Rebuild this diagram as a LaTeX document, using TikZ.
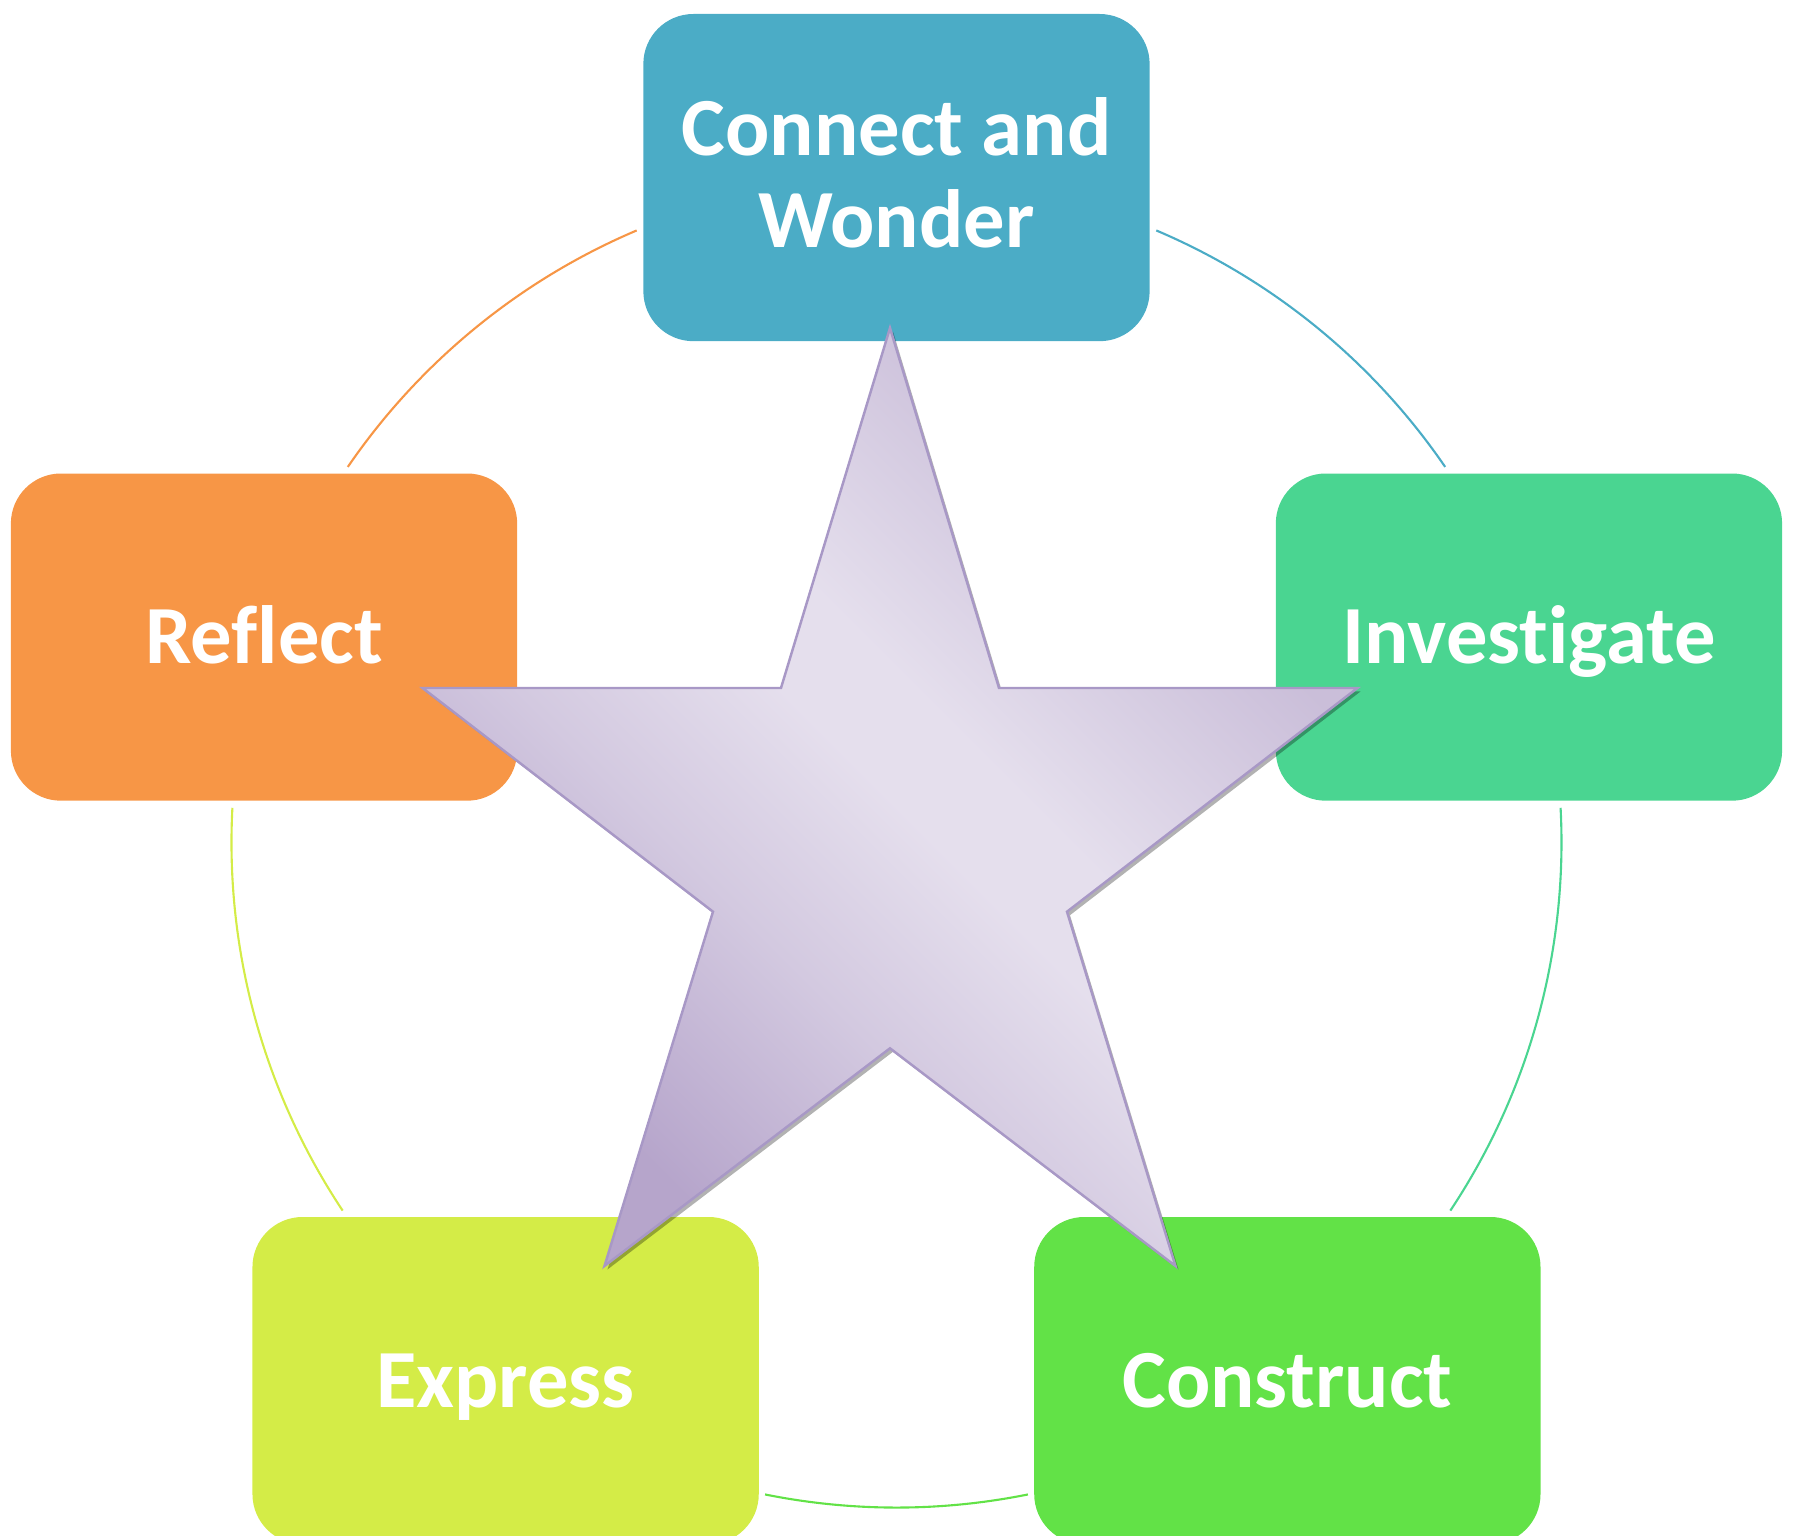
\documentclass[tikz,border=0pt]{standalone}
\usepackage{fontspec}
\setmainfont{Carlito}[Ligatures={NoCommon}]
\usetikzlibrary{shadings}
\definecolor{cwblue}{HTML}{4BACC6}
\definecolor{cworange}{HTML}{F79646}
\definecolor{cwteal}{HTML}{4AD591}
\definecolor{cwgreen}{HTML}{62E247}
\definecolor{cwlime}{HTML}{D4EC47}
\definecolor{starline}{HTML}{A898C6}
\definecolor{stardark}{HTML}{B6A5CB}
\definecolor{starsoft}{HTML}{D3C9E0}
\definecolor{starlight}{HTML}{E5DFED}
\definecolor{starmid}{HTML}{CABED9}
\pgfdeclareverticalshading{starfill}{100bp}{color(0bp)=(stardark); color(27bp)=(stardark); color(40bp)=(starsoft); color(50bp)=(starlight); color(55bp)=(starlight); color(70bp)=(starmid); color(100bp)=(starmid)}
\newcommand{\starpts}{(0,514.6)--(109,154.6)--(467.5,154.6)--(177,-69.1)--(285.5,-423.4)--(0,-205.7)--(-285.5,-423.4)--(-177,-69.1)--(-467.5,154.6)--(-109,154.6)--cycle}

\begin{document}
\begin{tikzpicture}[x=0.01cm,y=0.01cm,
  stage/.style={rectangle,rounded corners=0.5cm,minimum width=5.06cm,minimum height=3.27cm,inner sep=0pt,
    text=white,align=center,font=\bfseries\fontsize{23.5}{26}\selectfont},
  oneline/.style={text height=15.1pt,text depth=0pt},
  ring/.style={line width=0.6pt}]
\pgfmathsetmacro{\rad}{665}
\clip (-896.5,-693.4) rectangle (899.5,842.6);
%stages
\node[stage,text depth=3pt,fill=cwblue] (connect) at (90:\rad) {Connect and\\Wonder};
\node[stage,oneline,fill=cwteal] (investigate) at (18:\rad) {Investigate};
\node[stage,oneline,fill=cwgreen] (construct) at (-54:\rad) {Construct};
\node[stage,oneline,fill=cwlime] (express) at (-126:\rad) {Express};
\node[stage,oneline,fill=cworange] (reflect) at (162:\rad) {Reflect};
%ring between the stages
\foreach \a/\b/\c [count=\i] in {67/34.4/cwblue,3/-33.6/cwteal,-78.6/-101.4/cwgreen,-146.4/-183/cwlime,145.6/113/cworange}{
  \coordinate (ring\i) at (\a:\rad);
  \draw[ring,\c] (ring\i) arc[start angle=\a,end angle=\b,radius=\rad];
}
%star with its shadow
\fill[black,opacity=0.3,shift={(-3.5,-3.5)}] \starpts;
\shade[draw=starline,line width=0.7pt,line join=miter,shading=starfill,shading angle=-45,shift={(-6.5,0)}] \starpts;
\end{tikzpicture}
\end{document}
